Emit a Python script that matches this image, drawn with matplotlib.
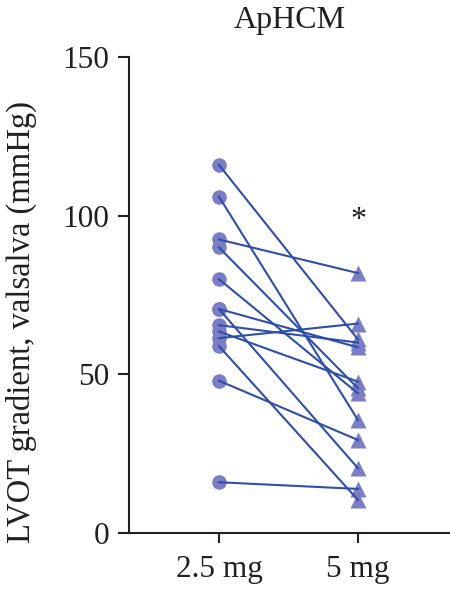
import matplotlib
matplotlib.use("Agg")
import matplotlib.pyplot as plt

groups = ["2.5 mg", "5 mg"]
dose_low = [116, 106, 92.5, 90, 80, 70.6, 70.6, 65.5, 63.5, 61.4, 58.9, 48, 16]
dose_high = [61, 35.6, 81.9, 45.6, 44, 58.5, 20.4, 60, 47.7, 66, 10.4, 29.3, 13.9]
yticks = [0, 50, 100, 150]
title = "ApHCM"
ylabel = "LVOT gradient, valsalva (mmHg)"

plt.rcParams['font.family'] = ['Liberation Serif', 'DejaVu Serif']
fig = plt.figure(figsize=(4.5, 5.91), dpi=100)
ax = fig.add_axes([0.2867, 0.0981, 0.7133, 0.8055])

pt_col = "#7b7ec4"
ln_col = "#2e4ea8"
for a, b in zip(dose_low, dose_high):
    ax.plot([0], [a], marker='o', ms=10.5, color=pt_col, mec='none', zorder=2, clip_on=False)
    ax.plot([1], [b], marker='^', ms=11, color=pt_col, mec='none', zorder=2, clip_on=False)
    ax.plot([0, 1], [a, b], color=ln_col, lw=1.5, zorder=3)

ax.text(1, 98.5, "*", ha='center', va='center', fontsize=23, color='#231f20')

ax.set_xlim(-0.647, 1.662)
ax.set_ylim(0, 150)
ax.set_yticks(yticks)
ax.set_xticks([0, 1])
ax.set_xticklabels(groups)
for s in ['top', 'right']:
    ax.spines[s].set_visible(False)
for s in ['left', 'bottom']:
    ax.spines[s].set_linewidth(1.5)
    ax.spines[s].set_color('#231f20')
ax.tick_params(axis='both', direction='out', width=1.5, color='#231f20',
               labelsize=22.5, labelcolor='#231f20')
ax.tick_params(axis='y', length=8, pad=6)
ax.tick_params(axis='x', length=7.5, pad=8)
ax.set_title(title, fontsize=23, color='#231f20', pad=21)
ax.set_ylabel(ylabel, fontsize=23.5, color='#231f20')
ax.yaxis.set_label_coords(-0.287, 0.443)

fig.savefig("out.png", dpi=100)
